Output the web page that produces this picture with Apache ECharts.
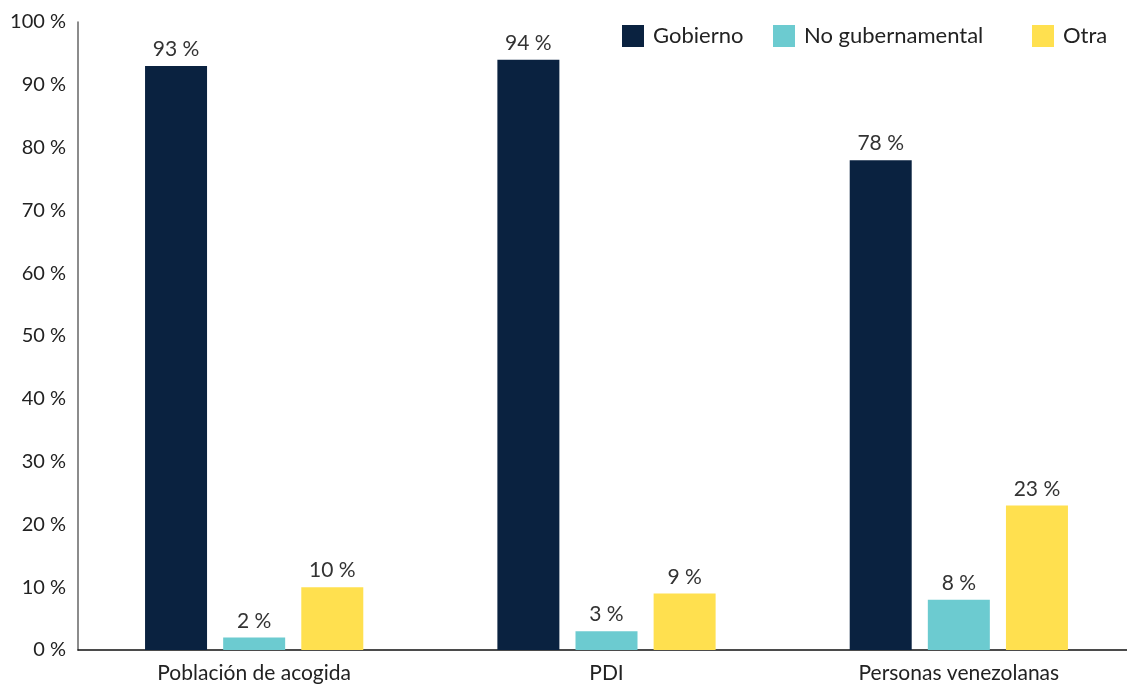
<!DOCTYPE html>
<html>
<head>
<meta charset="utf-8">
<script src="https://cdn.jsdelivr.net/npm/echarts@6/dist/echarts.min.js"></script>
<style>
  html, body { margin: 0; padding: 0; background: #fff; }
  #chart { width: 1127px; height: 686px; }
</style>
</head>
<body>
<div id="chart"></div>
<script>
const categories = ['Población de acogida', 'PDI', 'Personas venezolanas'];
const gobierno = [93, 94, 78];
const noGubernamental = [2, 3, 8];
const otra = [10, 9, 23];
const seriesNames = ['Gobierno', 'No gubernamental', 'Otra'];
const colors = ['#0a2240', '#6ccbd0', '#ffe04f'];

const font = 'Lato';
const chart = echarts.init(document.getElementById('chart'));

const label = {
  show: true,
  position: 'top',
  distance: 6,
  color: '#333',
  fontSize: 21,
  fontFamily: font,
  formatter: p => p.value + ' %'
};

function legendAt (name, left) {
  return {
    data: [name],
    left: left,
    top: 20,
    icon: 'rect',
    itemWidth: 22,
    itemHeight: 22,
    textStyle: { fontSize: 22, color: '#222', fontFamily: font, padding: [0, 0, 0, 4] }
  };
}

chart.setOption({
  animation: false,
  color: colors,
  legend: [
    legendAt(seriesNames[0], 617),
    legendAt(seriesNames[1], 768),
    legendAt(seriesNames[2], 1027)
  ],
  grid: { left: 78, right: -8, top: 22, bottom: 36, containLabel: false, outerBoundsMode: 'none' },
  xAxis: {
    type: 'category',
    data: categories,
    axisLine: { lineStyle: { color: '#111', width: 1.5 } },
    axisTick: { show: false },
    axisLabel: { fontSize: 21, color: '#222', fontFamily: font, margin: 13 }
  },
  yAxis: {
    type: 'value',
    min: 0,
    max: 100,
    interval: 10,
    axisLine: { show: true, lineStyle: { color: '#666', width: 1.5 } },
    axisTick: { show: false },
    splitLine: { show: false },
    axisLabel: { fontSize: 20, color: '#222', fontFamily: font, margin: 12, formatter: v => v + ' %' }
  },
  series: [
    { name: seriesNames[0], type: 'bar', data: gobierno, barWidth: 62, barGap: '26%', label: label },
    { name: seriesNames[1], type: 'bar', data: noGubernamental, barWidth: 62, barGap: '26%', label: label },
    { name: seriesNames[2], type: 'bar', data: otra, barWidth: 62, barGap: '26%', label: label }
  ]
});
</script>
</body>
</html>
